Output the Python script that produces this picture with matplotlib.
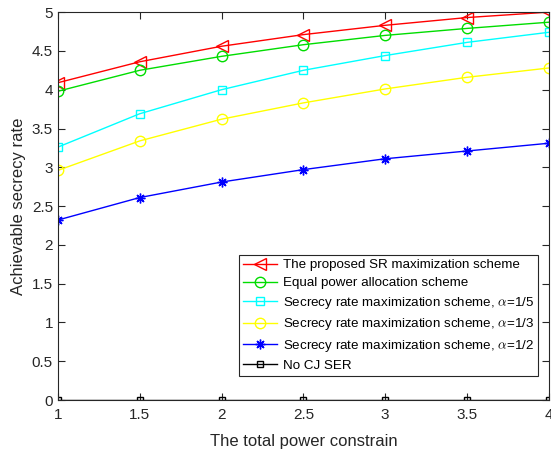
import matplotlib
matplotlib.use("Agg")
import matplotlib.pyplot as plt

plt.rcParams['font.family'] = ['Liberation Sans', 'DejaVu Sans']
plt.rcParams['mathtext.fontset'] = 'cm'

x = [1, 1.5, 2, 2.5, 3, 3.5, 4]
proposed = [4.09, 4.36, 4.56, 4.71, 4.83, 4.93, 5.00]
equal_power = [3.98, 4.25, 4.43, 4.58, 4.70, 4.79, 4.87]
alpha_1_5 = [3.26, 3.69, 4.00, 4.25, 4.44, 4.61, 4.74]
alpha_1_3 = [2.96, 3.34, 3.62, 3.83, 4.01, 4.16, 4.28]
alpha_1_2 = [2.32, 2.61, 2.81, 2.97, 3.11, 3.21, 3.31]
no_cj = [0, 0, 0, 0, 0, 0, 0]

labels = ['The proposed SR maximization scheme',
          'Equal power allocation scheme',
          r'Secrecy rate maximization scheme, $\alpha$=1/5',
          r'Secrecy rate maximization scheme, $\alpha$=1/3',
          r'Secrecy rate maximization scheme, $\alpha$=1/2',
          'No CJ SER']
xticks = [1, 1.5, 2, 2.5, 3, 3.5, 4]
yticks = [0, 0.5, 1, 1.5, 2, 2.5, 3, 3.5, 4, 4.5, 5]

fig = plt.figure(figsize=(5.51, 4.49), dpi=100)
ax = fig.add_axes([0.105, 0.109, 0.891, 0.864])

ax.plot(x, proposed, color='#ff0000', marker='<', ms=8.5, mfc='none', lw=1, label=labels[0])
ax.plot(x, equal_power, color='#00dd00', marker='o', ms=7.5, mfc='none', lw=1, label=labels[1])
ax.plot(x, alpha_1_5, color='#00ffff', marker='s', ms=5.5, mfc='none', lw=1, label=labels[2])
ax.plot(x, alpha_1_3, color='#ffff00', marker='o', ms=7.5, mfc='none', lw=1, label=labels[3])
ax.plot(x, alpha_1_2, color='#0000ff', marker=(8, 2, 0), ms=7, lw=1, label=labels[4])
ax.plot(x, no_cj, color='#000000', marker='s', ms=5, mfc='none', lw=1, label=labels[5])

ax.set_xlim(1, 4)
ax.set_ylim(0, 5)
ax.set_xticks(xticks)
ax.set_xticklabels(['1', '1.5', '2', '2.5', '3', '3.5', '4'])
ax.set_yticks(yticks)
ax.set_yticklabels(['0', '0.5', '1', '1.5', '2', '2.5', '3', '3.5', '4', '4.5', '5'])
ax.tick_params(direction='in', top=True, right=True, labelsize=11, colors='#262626', length=5)
ax.tick_params(axis='x', pad=6)
for s in ax.spines.values():
    s.set_color('#262626')
    s.set_linewidth(0.8)
ax.set_xlabel('The total power constrain', fontsize=12, color='#262626', labelpad=8)
ax.set_ylabel('Achievable secrecy rate', fontsize=12, color='#262626')

leg = ax.legend(loc='lower right', bbox_to_anchor=(0.978, 0.062), fontsize=9.6,
                frameon=True, fancybox=False, edgecolor='#262626', framealpha=1,
                borderpad=0.3, labelspacing=0.42, handlelength=2.6, handletextpad=0.4,
                borderaxespad=0)
leg.get_frame().set_linewidth(0.8)

fig.savefig('out.png', dpi=100)
